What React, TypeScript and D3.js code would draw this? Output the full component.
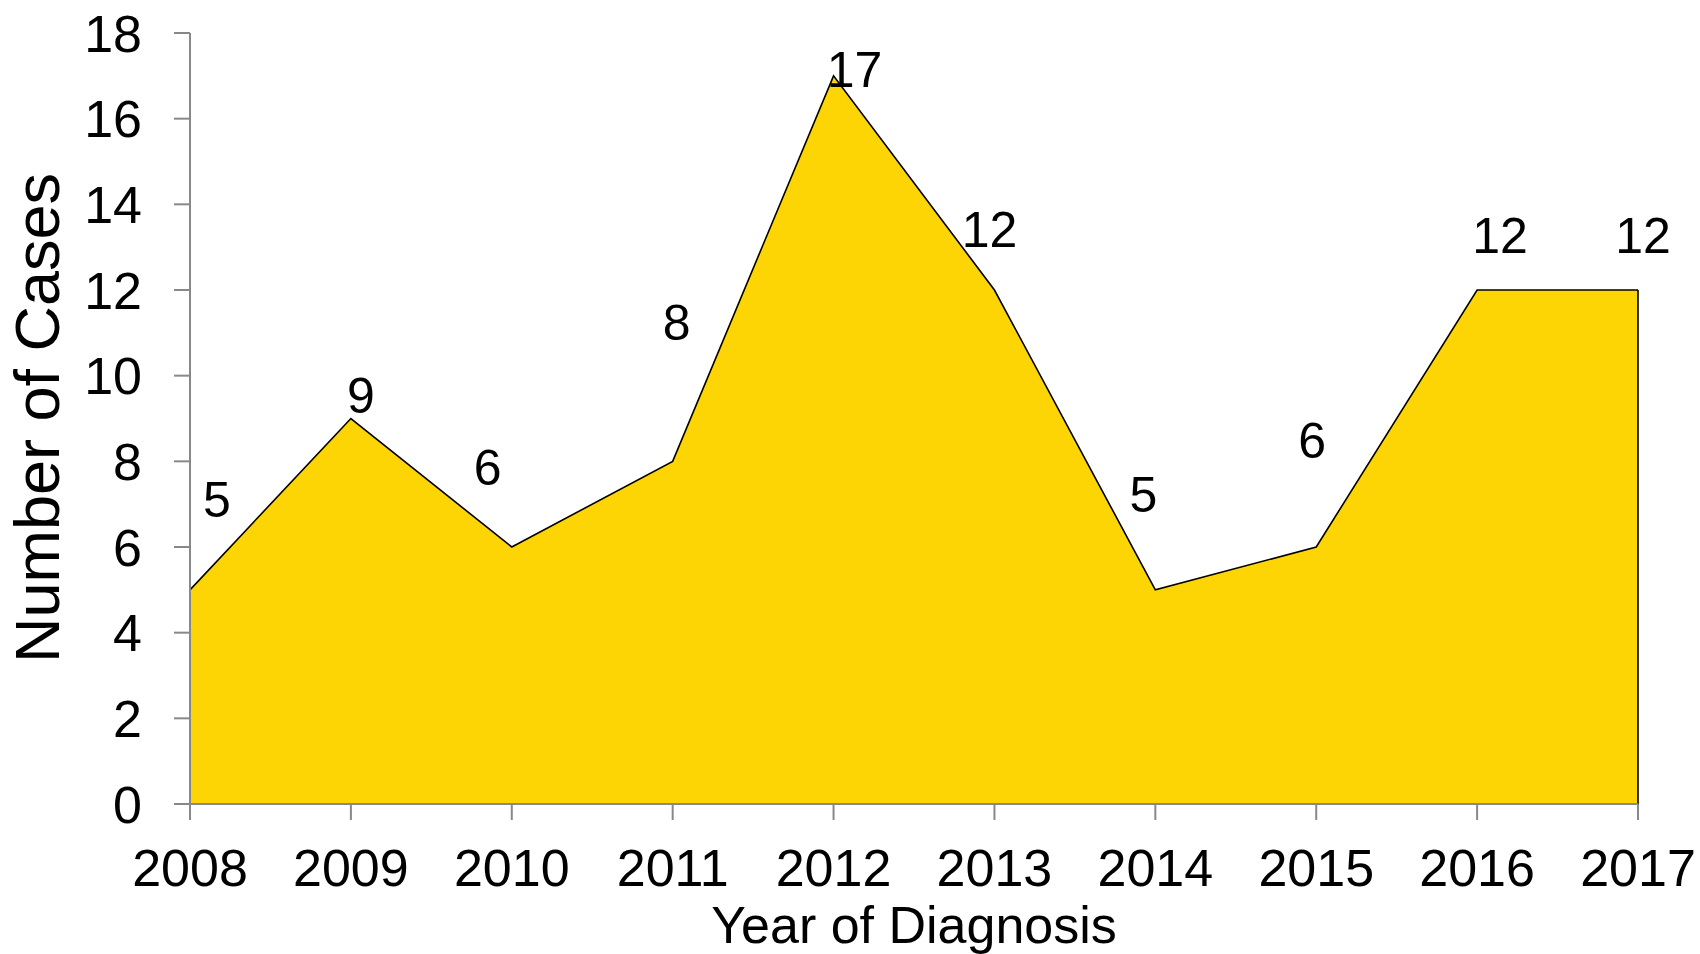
import React from "react";
import * as d3 from "d3";

const years = [2008, 2009, 2010, 2011, 2012, 2013, 2014, 2015, 2016, 2017];
const cases = [5, 9, 6, 8, 17, 12, 5, 6, 12, 12];
const yTicks = [0, 2, 4, 6, 8, 10, 12, 14, 16, 18];
// label placement offsets (px) relative to each point: [dx, dy of baseline]
const labelOffsets: [number, number][] = [
  [27, -73], [10, -6], [-24, -62], [4, -121], [21, 11],
  [-5, -43], [-12, -78], [-4, -89], [23, -37], [5, -37],
];

const W = 1700, H = 954;
const FONT = "'Liberation Sans', Arial, Helvetica, sans-serif";

export default function App() {
  const x = d3.scaleLinear().domain([2008, 2017]).range([190, 1638]);
  const y = d3.scaleLinear().domain([0, 18]).range([804, 33]);
  const data = years.map((yr, i) => ({ yr, v: cases[i] }));
  const area = d3.area<{ yr: number; v: number }>()
    .x(d => x(d.yr)).y0(y(0)).y1(d => y(d.v));
  const line = d3.line<{ yr: number; v: number }>()
    .x(d => x(d.yr)).y(d => y(d.v));
  const axisColor = "#888888";
  return (
    <svg width={W} height={H} style={{ position: "absolute", left: 0, top: 0, background: "#fff" }}
      fontFamily={FONT}>
      <path d={area(data) || ""} fill="#FDD404" stroke="none" />
      <path d={line(data) || ""} fill="none" stroke="#000" strokeWidth={1.6} strokeLinejoin="miter" />
      <line x1={x(2017)} x2={x(2017)} y1={y(cases[cases.length - 1])} y2={y(0)} stroke="#000" strokeWidth={1.6} />
      {/* y axis */}
      <line x1={190} x2={190} y1={y(18)} y2={y(0)} stroke={axisColor} strokeWidth={2} />
      {yTicks.map(t => (
        <g key={t}>
          <line x1={174} x2={190} y1={y(t)} y2={y(t)} stroke={axisColor} strokeWidth={2} />
          <text x={142} y={y(t)} dy="0.36em" textAnchor="end" fontSize={52} fill="#000">{t}</text>
        </g>
      ))}
      {/* x axis */}
      <line x1={x(2008)} x2={x(2017)} y1={y(0)} y2={y(0)} stroke={axisColor} strokeWidth={2} />
      {years.map(yr => (
        <g key={yr}>
          <line x1={x(yr)} x2={x(yr)} y1={y(0)} y2={y(0) + 16} stroke={axisColor} strokeWidth={2} />
          <text x={x(yr)} y={886} textAnchor="middle" fontSize={52} fill="#000">{yr}</text>
        </g>
      ))}
      {/* data labels */}
      {data.map((d, i) => (
        <text key={i} x={x(d.yr) + labelOffsets[i][0]} y={y(d.v) + labelOffsets[i][1]}
          textAnchor="middle" fontSize={50} fill="#000">{d.v}</text>
      ))}
      <text x={(x(2008) + x(2017)) / 2} y={943} textAnchor="middle" fontSize={52} fill="#000">Year of Diagnosis</text>
      <text transform={`translate(59, 418) rotate(-90)`} textAnchor="middle" fontSize={63} fill="#000">Number of Cases</text>
    </svg>
  );
}
